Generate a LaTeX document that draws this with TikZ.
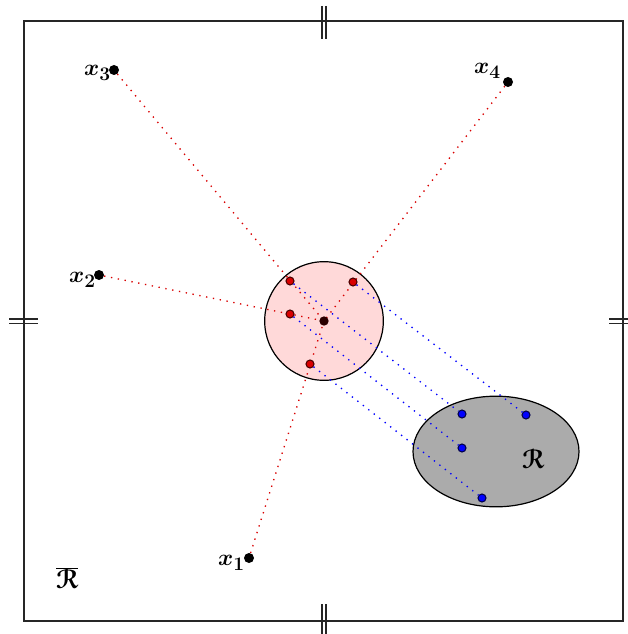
\documentclass[tikz,border=0pt]{standalone}
\usepackage[mathcal]{euscript}
\usepackage{bm}
\usetikzlibrary{shapes.geometric}
\begin{document}
\begin{tikzpicture}[x=0.75pt,y=-0.75pt,
  frame/.style={draw=black!85,line width=1.1pt},
  tick/.style={draw=black!85,line width=1.1pt},
  bdot/.style={circle,fill=black,inner sep=0pt,minimum size=7.5pt},
  rdot/.style={circle,fill=red!85!black,draw=black!70!red,line width=0.8pt,inner sep=0pt,minimum size=6pt},
  udot/.style={circle,fill=blue,draw=black!70!blue,line width=0.8pt,inner sep=0pt,minimum size=6pt},
  cdot/.style={circle,fill=black!60!red!40!black,inner sep=0pt,minimum size=7pt},
  rline/.style={draw=red!85!black,line width=1pt,dash pattern=on 1pt off 4.2pt},
  uline/.style={draw=blue,line width=1pt,dash pattern=on 1pt off 4.2pt},
  lab/.style={font=\fontsize{19}{22}\selectfont,inner sep=0pt,anchor=east},
  rlab/.style={font=\fontsize{20}{24}\selectfont,inner sep=0pt}]
\useasboundingbox (0,0) rectangle (627,634);
% frame
\draw[frame] (24,21) rectangle (623,621);
\draw[tick] (322,6) -- (322,39) (326,6) -- (326,39);
\draw[tick] (322,604) -- (322,638) (326,604) -- (326,638);
\draw[tick] (9,319) -- (38,319) (9,323.5) -- (38,323.5);
\draw[tick] (609,319) -- (638,319) (609,323.5) -- (638,323.5);
% regions
\node[circle,draw=black,line width=0.9pt,fill=red!15,minimum size=89pt,inner sep=0pt] (C) at (324,321) {};
\node[ellipse,draw=black,line width=0.9pt,fill=black!33,minimum width=124.5pt,minimum height=83pt,inner sep=0pt] (E) at (496,451.5) {};
\node[rlab] (RL) at (533,459) {$\bm{\mathcal{R}}$};
\node[rlab] (RB) at (67,578) {$\overline{\bm{\mathcal{R}}}$};
% points
\node[bdot] (x1) at (249,558) {};
\node[bdot] (x2) at (99,275) {};
\node[bdot] (x3) at (114,70) {};
\node[bdot] (x4) at (508,82) {};
\node[lab] (l1) at (245,563) {$\bm{x}_{\bm{1}}$};
\node[lab] (l2) at (96,280) {$\bm{x}_{\bm{2}}$};
\node[lab] (l3) at (111,73) {$\bm{x}_{\bm{3}}$};
\node[lab] (l4) at (501,71) {$\bm{x}_{\bm{4}}$};
\coordinate (c) at (324,321);
% lines
\draw[rline] (x1) -- (c);
\draw[rline] (x2) -- (c);
\draw[rline] (x3) -- (c);
\draw[rline] (x4) -- (c);
\node[rdot] (p1) at (310,364) {};
\node[rdot] (p2) at (290,314) {};
\node[rdot] (p3) at (290,281) {};
\node[rdot] (p4) at (353,282) {};
\node[udot] (q1) at (482,498) {};
\node[udot] (q2) at (462,448) {};
\node[udot] (q3) at (462,414) {};
\node[udot] (q4) at (526,415) {};
\draw[uline] (p1) -- (q1);
\draw[uline] (p2) -- (q2);
\draw[uline] (p3) -- (q3);
\draw[uline] (p4) -- (q4);
\node[cdot] (cd) at (c) {};
\end{tikzpicture}
\end{document}
